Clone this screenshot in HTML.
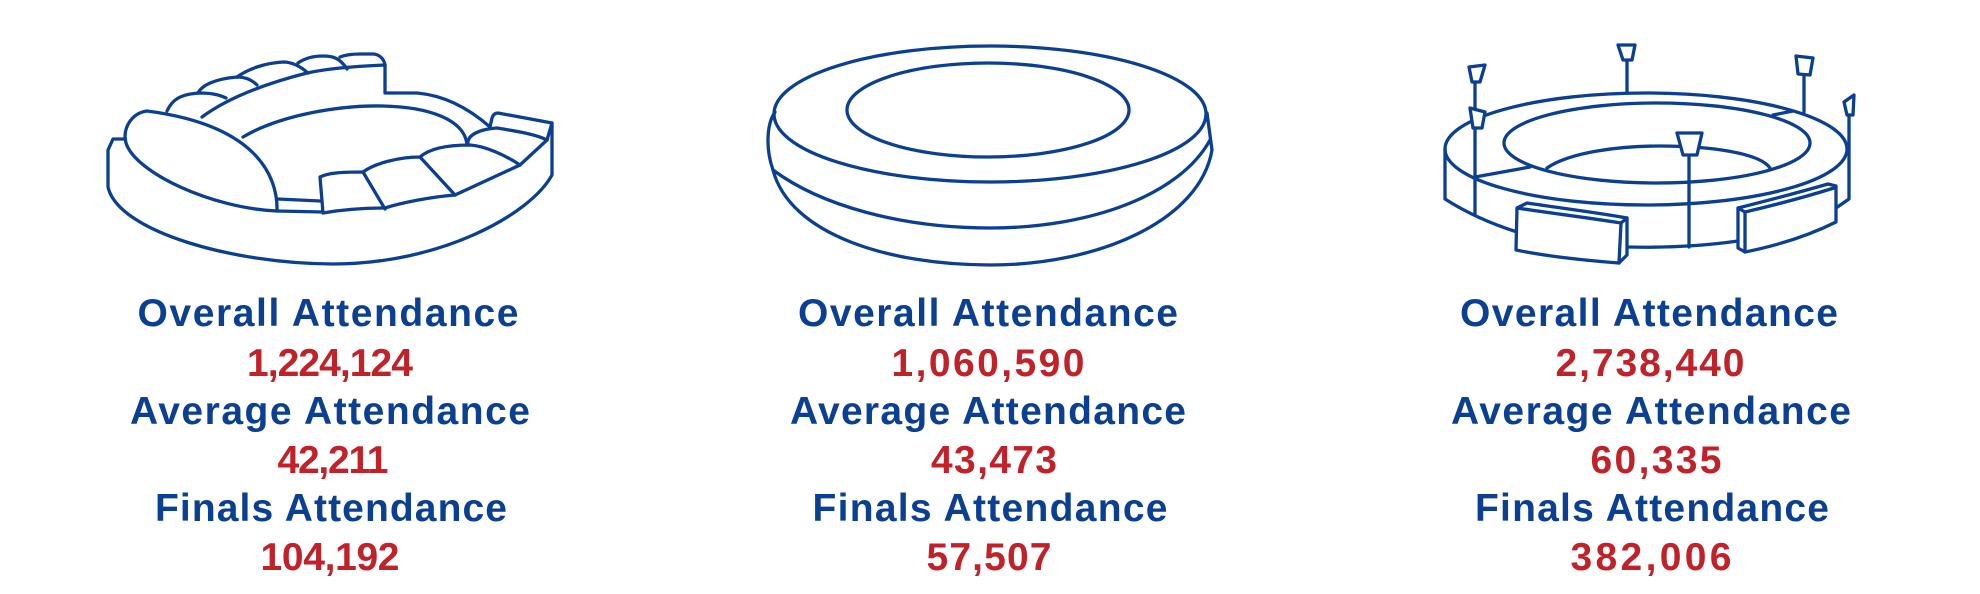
<!DOCTYPE html>
<html>
<head>
<meta charset="utf-8">
<style>
  html,body{margin:0;padding:0;background:#fff;}
  body{width:1980px;height:594px;overflow:hidden;}
  svg{display:block;}
  .l{font-family:"Liberation Sans",Arial,sans-serif;font-weight:bold;font-size:39px;fill:#0b3f91;}
  .n{font-family:"Liberation Sans",Arial,sans-serif;font-weight:bold;font-size:39px;fill:#c0222a;}
  .s{fill:none;stroke:#0b3f91;stroke-width:3.3;stroke-linecap:round;stroke-linejoin:round;}
  .w{fill:#fff;stroke:#0b3f91;stroke-width:3.3;stroke-linecap:round;stroke-linejoin:round;}
</style>
</head>
<body>
<svg width="1980" height="594" viewBox="0 0 1980 594" xmlns="http://www.w3.org/2000/svg">
  <!-- Stadium 1 -->
  <g class="s">
    <path d="M124,139 L113,139 L108,150 L108,187 C118,232 235,264 333,264 C440,264 530,215 552,175 L552,123"/>
    <path d="M147,111 C132,113 122,128 126,143 C135,172 210,208 277,211 C278,175 255,125 147,111 Z"/>
    <path d="M278,199 L320,201"/>
    <path d="M277,211 L323,212"/>
    <path d="M323,213 L320,177 C328,173 340,172 363,172 L385,209"/>
    <path d="M323,213 C340,210 360,208 385,208"/>
    <path d="M363,172 C375,163 400,157 420,157 L455,195"/>
    <path d="M385,208 C400,203 430,197 455,195"/>
    <path d="M420,157 C430,148 450,145 470,145 C485,146 505,155 520,165"/>
    <path d="M455,195 L520,165"/>
    <path d="M468,145 C466,135 480,129 497,128 C515,131 535,134 547,140"/>
    <path d="M520,165 L547,140"/>
    <path d="M490,127 L492,118 C493,115 495,113 498,113 L552,123 L547,140"/>
    <path d="M243,137 C280,115 340,105 383,106 C430,107 465,120 467,145"/>
    <path d="M202,117 C225,100 260,85 307,73 C330,68 360,66 385,65"/>
    <path d="M167,111 C172,100 180,94 200,93 C210,93 220,95 226,98"/>
    <path d="M198,93 C202,85 215,79 237,77 C245,77 252,80 257,85"/>
    <path d="M237,77 C248,69 265,63 283,62 C292,62 300,66 308,73"/>
    <path d="M298,63 C305,58 313,56 323,56 C333,56 340,58 347,69"/>
    <path d="M340,57 C345,55 352,54 360,54 L373,54 C378,54 384,58 385,65"/>
    <path d="M385,65 L385,93 L417,93 C440,95 465,105 490,127"/>
  </g>

  <!-- Stadium 2 -->
  <g class="s">
    <ellipse cx="990" cy="114" rx="216" ry="68"/>
    <ellipse cx="988" cy="110" rx="141" ry="47"/>
    <path d="M775,112 C766,125 766,150 773,170 C790,235 890,265 990,265 C1100,265 1200,220 1212,150 L1207,113"/>
    <path d="M773,170 C820,205 900,228 990,228 C1090,228 1180,195 1210,140"/>
  </g>

  <!-- Stadium 3 -->
  <g class="s">
    <ellipse cx="1646" cy="149" rx="201" ry="56"/>
    <ellipse cx="1657" cy="143" rx="153" ry="40"/>
    <path d="M1547,168 C1570,152 1620,146 1660,146 C1710,146 1760,153 1770,168"/>
    <path d="M1445,149 L1445,199 C1470,215 1495,225 1517,232"/>
    <path d="M1627,247 C1670,248 1710,245 1738,241"/>
    <path d="M1836,208 L1849,199 L1849,140"/>
    <path d="M1475,177 L1530,167"/>
    <path d="M1773,115 L1793,111"/>
  </g>
  <g>
    <path class="w" d="M1517,208 L1527,203 C1560,208 1600,213 1627,218 L1627,255 L1619,263 C1580,260 1545,256 1516,250 Z"/>
    <path class="s" d="M1517,208 C1550,213 1590,218 1621,223 L1627,218"/>
    <path class="s" d="M1621,223 L1619,263"/>
    <path class="w" d="M1738,208 C1770,200 1800,192 1828,184 L1836,186 L1836,222 C1810,235 1780,245 1745,252 L1738,248 Z"/>
    <path class="s" d="M1738,208 L1745,212 C1775,205 1805,197 1834,188"/>
    <path class="s" d="M1745,212 L1745,252"/>
  </g>
  <g class="s">
    <path d="M1475,82 L1475,215"/>
    <path d="M1627,60 L1627,93"/>
    <path d="M1804,75 L1804,112"/>
    <path d="M1849,115 L1849,140"/>
    <path d="M1689,155 L1689,247"/>
  </g>
  <g class="w">
    <polygon points="1469,67 1485,65 1480,82 1472,82"/>
    <polygon points="1470,108 1485,112 1482,128 1473,128"/>
    <polygon points="1618,45 1635,45 1632,60 1623,60"/>
    <polygon points="1796,56 1813,58 1810,75 1798,74"/>
    <polygon points="1844,102 1854,95 1853,115 1847,115"/>
    <polygon points="1677,133 1702,133 1697,155 1683,155"/>
  </g>

  <g text-anchor="middle">
    <text class="l" x="328" y="326" textLength="381" lengthAdjust="spacing">Overall Attendance</text>
    <text class="n" x="330" y="376" textLength="166" lengthAdjust="spacing">1,224,124</text>
    <text class="l" x="330" y="424" textLength="400" lengthAdjust="spacing">Average Attendance</text>
    <text class="n" x="333" y="473" textLength="111" lengthAdjust="spacing">42,211</text>
    <text class="l" x="331" y="521" textLength="352" lengthAdjust="spacing">Finals Attendance</text>
    <text class="n" x="330" y="570" textLength="139" lengthAdjust="spacing">104,192</text>

    <text class="l" x="988" y="326" textLength="380" lengthAdjust="spacing">Overall Attendance</text>
    <text class="n" x="988" y="376" textLength="193" lengthAdjust="spacing">1,060,590</text>
    <text class="l" x="988" y="424" textLength="396" lengthAdjust="spacing">Average Attendance</text>
    <text class="n" x="994" y="473" textLength="126" lengthAdjust="spacing">43,473</text>
    <text class="l" x="990" y="521" textLength="355" lengthAdjust="spacing">Finals Attendance</text>
    <text class="n" x="989" y="570" textLength="125" lengthAdjust="spacing">57,507</text>

    <text class="l" x="1649" y="326" textLength="378" lengthAdjust="spacing">Overall Attendance</text>
    <text class="n" x="1650" y="376" textLength="189" lengthAdjust="spacing">2,738,440</text>
    <text class="l" x="1651" y="424" textLength="400" lengthAdjust="spacing">Average Attendance</text>
    <text class="n" x="1656" y="473" textLength="131" lengthAdjust="spacing">60,335</text>
    <text class="l" x="1652" y="521" textLength="354" lengthAdjust="spacing">Finals Attendance</text>
    <text class="n" x="1651" y="570" textLength="161" lengthAdjust="spacing">382,006</text>
  </g>
</svg>
</body>
</html>
